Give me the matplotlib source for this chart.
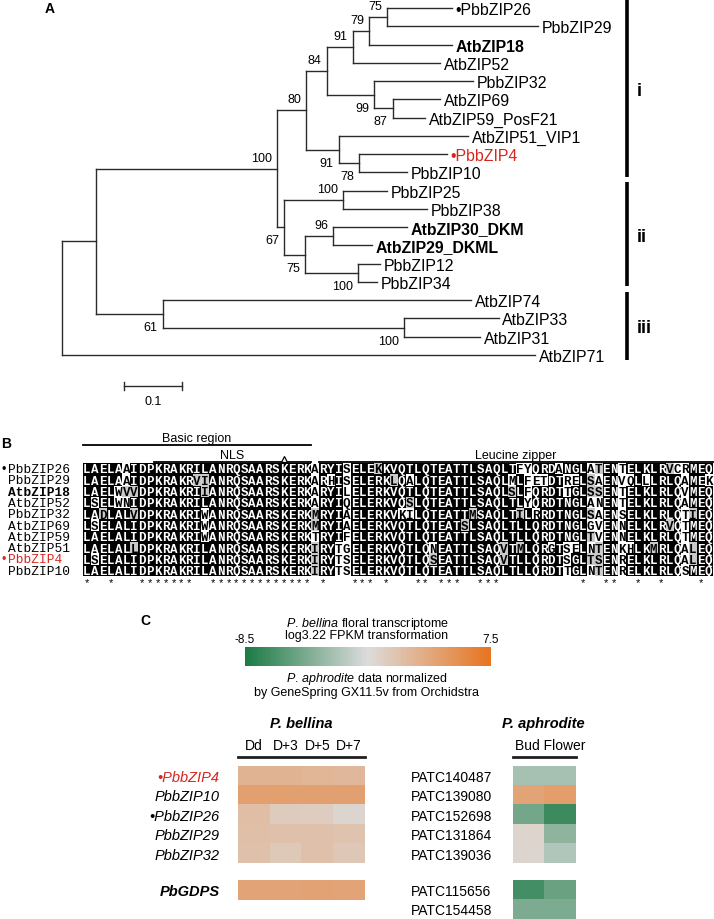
import numpy as np
import matplotlib
matplotlib.use('Agg')
import matplotlib.pyplot as plt
from collections import Counter
from matplotlib.colors import LinearSegmentedColormap, Normalize, to_rgb
from matplotlib.cm import ScalarMappable

plt.rcParams['font.family'] = ['Liberation Sans', 'DejaVu Sans']
plt.rcParams['mathtext.fontset'] = 'custom'
plt.rcParams['mathtext.rm'] = 'Liberation Sans'
plt.rcParams['mathtext.it'] = 'Liberation Sans:italic'
plt.rcParams['mathtext.bf'] = 'Liberation Sans:bold'

W, H = 714, 920

# === A: tree (branch lengths, bootstrap values as internal labels) ===
tree_newick = (
    "((((((((PbbZIP26:0.1124,PbbZIP29:0.2612)75:0.0305,AtbZIP18:0.1431)79:0.0284,"
    "AtbZIP52:0.1509)91:0.0445,(PbbZIP32:0.1712,(AtbZIP69:0.0822,AtbZIP59_PosF21:0.0564)87:0.0316)99:0.0816)84:0.0357,"
    "(AtbZIP51_VIP1:0.2233,(PbbZIP4:0.1507,PbbZIP10:0.0822)78:0.0359)91:0.056)80:0.0505,"
    "((PbbZIP25:0.0748,PbbZIP38:0.1438)100:0.1017,((AtbZIP30_DKM:0.1266,AtbZIP29_DKML:0.0664)96:0.0483,"
    "(PbbZIP12:0.0374,PbbZIP34:0.0327)100:0.0913)75:0.0362)67:0.0131)100:0.3116,"
    "(AtbZIP74:0.5317,(AtbZIP33:0.1631,AtbZIP31:0.131)100:0.4162)61:0.1148):0.058,AtbZIP71:0.8147);"
)
bold_leaves = ['AtbZIP18', 'AtbZIP30_DKM', 'AtbZIP29_DKML']
marked_genes = ['PbbZIP26', 'PbbZIP4']
red_genes = ['PbbZIP4']
clade_names = ['i', 'ii', 'iii']
clade_first = [0, 10, 16]
clade_last = [9, 15, 19]
scale_len = 0.1

# === B: alignment ===
seq_names = ['PbbZIP26', 'PbbZIP29', 'AtbZIP18', 'AtbZIP52', 'PbbZIP32',
             'AtbZIP69', 'AtbZIP59', 'AtbZIP51', 'PbbZIP4', 'PbbZIP10']
seqs = [
    'LAELAAIDPKRAKRILANRQSAARSKERKARYISELEKKVQTLQTEATTLSAQLTFYQRDANGLATENTELKLRVCRMEQ',
    'LAELAAIDPKRAKRVIANRQSAARSKERKARHISELERKLQALQTEATTLSAQLMLFETDTRELSAENVQLLLRLQAMEK',
    'LAELWVVDPKRAKRIIANRQSAARSKERKARYILELERKVQTLQTEATTLSAQLSLFQRDTTGLSSENTELKLRLQVMEQ',
    'LSELWNIDPKRAKRILANRQSAARSKERKARYIQELERKVQSLQTEATTLSAQLTLYQRDTNGLANENTELKLRLQAMEQ',
    'LADLALVDPKRAKRIWANRQSAARSKERKMRYIAELERKVKILQTEATTMSAQLTILRRDTNGLSAENSELKLRLQTIEQ',
    'LSELALIDPKRAKRIWANRQSAARSKERKMRYIAELERKVQTLQTEATSLSAQLTLLQRDTNGLGVENNELKLRVQTMEQ',
    'LAELALIDPKRAKRIWANRQSAARSKERKTRYIFELERKVQTLQTEATTLSAQLTLLQRDTNGLTVENNELKLRLQTMEQ',
    'LAELALLDPKRAKRILANRQSAARSKERKIRYTGELERKVQTLQNEATTLSAQVTMLQRGTSELNTENKHLKMRLQALEQ',
    'LSELALIDPKRAKRILANRQSAARSKERKIRYTSELERKVQTLQSEATTLSAQVTLLQRDTSGLTSENRELKLRLQALEQ',
    'LAELALIDPKRAKRILANRQSAARSKERKIRYTSELERKVQTLQTEATTLSAQLTLLQRDTTGLNTENRELKLRLQSMEQ',
]
region_names = ['Basic region', 'NLS', 'Leucine zipper']
region_start = [1, 10, 31]
region_end = [29, 29, 80]
region_level = [0, 1, 1]
nls_site = 26
sim_groups = ['ILVM', 'FYW', 'KRH', 'DE', 'NQ', 'ST', 'AG']

# === C: expression heatmaps ===
cbar_min, cbar_max = -8.5, 7.5
bel_stages = ['Dd', 'D+3', 'D+5', 'D+7']
bel_genes = ['PbbZIP4', 'PbbZIP10', 'PbbZIP26', 'PbbZIP29', 'PbbZIP32']
bel_vals = [[2.6, 2.6, 2.4, 2.3],
            [4.0, 4.1, 4.0, 4.0],
            [1.8, 0.8, 0.7, 0.0],
            [1.7, 1.5, 1.5, 1.4],
            [1.6, 1.0, 1.5, 1.1]]
bel_ref_gene = ['PbGDPS']
bel_ref_vals = [[3.7, 3.7, 3.9, 3.8]]
aph_stages = ['Bud', 'Flower']
aph_ids = ['PATC140487', 'PATC139080', 'PATC152698', 'PATC131864', 'PATC139036']
aph_vals = [[-2.7, -2.7],
            [3.8, 4.2],
            [-4.8, -7.1],
            [0.1, -3.7],
            [0.0, -2.3]]
aph_ref_ids = ['PATC115656', 'PATC154458']
aph_ref_vals = [[-6.8, -5.2],
                [-4.4, -4.5]]

RED = '#d8261f'
LINE = '#2b2b2b'

fig = plt.figure(figsize=(W / 100, H / 100), dpi=100)


def box(x0, y0, x1, y1):
    return [x0 / W, 1 - y1 / H, (x1 - x0) / W, (y1 - y0) / H]


def ftext(x, y, s, **kw):
    fig.text(x / W, 1 - y / H, s, **kw)


# ---------- Panel A ----------
def parse_newick(s):
    pos = 0

    def node():
        nonlocal pos
        kids = []
        if s[pos] == '(':
            pos += 1
            kids.append(node())
            while s[pos] == ',':
                pos += 1
                kids.append(node())
            pos += 1
        start = pos
        while s[pos] not in ',():;':
            pos += 1
        label = s[start:pos]
        length = 0.0
        if s[pos] == ':':
            pos += 1
            start = pos
            while s[pos] not in ',();':
                pos += 1
            length = float(s[start:pos])
        return {'label': label, 'len': length, 'kids': kids}
    return node()


tree = parse_newick(tree_newick)
leaf_order = []


def layout(n, x0):
    n['x'] = x0 + n['len']
    if n['kids']:
        for k in n['kids']:
            layout(k, n['x'])
        n['y'] = (n['kids'][0]['y'] + n['kids'][-1]['y']) / 2
    else:
        n['y'] = len(leaf_order)
        leaf_order.append(n['label'])


layout(tree, 0.0)

UNIT, ROW = 580.0, 18.26
axA = fig.add_axes(box(0, 0, W, 420))
axA.set_xlim(-62.5 / UNIT, (W - 62.5) / UNIT)
axA.set_ylim((420 - 9) / ROW, -9 / ROW)
axA.axis('off')


def draw(n):
    ys = [k['y'] for k in n['kids']]
    axA.plot([n['x'], n['x']], [min(ys), max(ys)], color=LINE, lw=1.0)
    for i, k in enumerate(n['kids']):
        axA.plot([n['x'], k['x']], [k['y'], k['y']], color=LINE, lw=1.0)
        if k['kids']:
            if k['label']:
                dy = 7.9 if i == 0 else -9.4
                axA.annotate(k['label'], (k['x'], k['y']), xytext=(-3.6, dy),
                             textcoords='offset points', ha='right', va='center', fontsize=9)
            draw(k)
        else:
            name = k['label']
            txt = ('\u2022' if name in marked_genes else '') + name
            axA.annotate(txt, (k['x'], k['y']), xytext=(2.5, 0), textcoords='offset points',
                         ha='left', va='center_baseline', fontsize=11.4,
                         fontweight='bold' if name in bold_leaves else 'normal',
                         color=RED if name in red_genes else 'black')


draw(tree)

bar_x = 0.973
for name, a, b in zip(clade_names, clade_first, clade_last):
    axA.plot([bar_x, bar_x], [a - 0.47, b + 0.25], color='black', lw=2.6, solid_capstyle='butt')
    axA.annotate(name, (bar_x, (a + b) / 2), xytext=(7, 0), textcoords='offset points',
                 ha='left', va='center', fontsize=13, fontweight='bold')

sb_x0, sb_y = 0.106, 20.7
axA.plot([sb_x0, sb_x0 + scale_len], [sb_y, sb_y], color=LINE, lw=1.0)
for xx in (sb_x0, sb_x0 + scale_len):
    axA.plot([xx, xx], [sb_y - 0.22, sb_y + 0.22], color=LINE, lw=1.0)
axA.annotate(f'{scale_len}', (sb_x0 + scale_len / 2, sb_y), xytext=(0, -11), textcoords='offset points',
             ha='center', va='center', fontsize=9)

ftext(50, 9, 'A', fontsize=10, fontweight='bold', ha='center', va='center')

# ---------- Panel B ----------
def grp(a):
    for g in sim_groups:
        if a in g:
            return g
    return a


nseq, ncol = len(seqs), len(seqs[0])
shade = np.ones((nseq, ncol, 3))
txt_white = np.zeros((nseq, ncol), dtype=bool)
stars = []
for c in range(ncol):
    col = [s[c] for s in seqs]
    cons, n = Counter(col).most_common(1)[0]
    if n == nseq:
        stars.append(c)
    if n / nseq >= 0.5:
        for r, a in enumerate(col):
            if a == cons:
                shade[r, c] = 0
                txt_white[r, c] = True
            elif grp(a) == grp(cons):
                shade[r, c] = to_rgb('#c9c9c9')
    else:
        g, gn = Counter(grp(a) for a in col).most_common(1)[0]
        if gn / nseq >= 0.5:
            for r, a in enumerate(col):
                if grp(a) == g:
                    shade[r, c] = to_rgb('#c9c9c9')

CW, RH = 7.87, 11.3
axB = fig.add_axes(box(83, 430, 83 + ncol * CW, 592))
axB.imshow(shade, extent=(0, ncol, nseq - 0.5, -0.5), aspect='auto', interpolation='nearest')
axB.set_xlim(0, ncol)
axB.set_ylim((592 - 470) / RH, (430 - 470) / RH)
axB.axis('off')
for r, s in enumerate(seqs):
    for c, a in enumerate(s):
        axB.text(c + 0.5, r + 0.04, a, ha='center', va='center', fontsize=9, fontweight='bold',
                 family='Liberation Mono', color='white' if txt_white[r, c] else 'black')
    name = seq_names[r]
    axB.text((8.3 - 83) / CW, r, name, ha='left', va='center', fontsize=9.3, family='Liberation Mono',
             fontweight='bold' if name in bold_leaves else 'normal',
             color=RED if name in red_genes else 'black', clip_on=False)
    if name in marked_genes:
        axB.text((4 - 83) / CW, r, '\u2022', ha='center', va='center', fontsize=9,
                 color=RED if name in red_genes else 'black', clip_on=False)
for c in stars:
    axB.text(c + 0.5, nseq + 0.05, '*', ha='center', va='center', fontsize=8)

line_y = [-2.12, -0.66]
for name, a, b, lev in zip(region_names, region_start, region_end, region_level):
    y = line_y[lev]
    axB.plot([a - 1, b], [y, y], color='black', lw=1.3, clip_on=False)
    axB.text((a - 1 + b) / 2, y - 0.62, name, ha='center', va='center', fontsize=9, clip_on=False)
axB.plot([nls_site - 0.5], [line_y[1] - 0.22], marker='^', ms=5, mfc='white', mec='black',
         mew=0.9, clip_on=False)

ftext(1, 444, 'B', fontsize=10, fontweight='bold', ha='left', va='center')

# ---------- Panel C ----------
cmap = LinearSegmentedColormap.from_list('gwo', ['#1b7a44', '#dcdcdc', '#e8741f'])
norm = Normalize(cbar_min, cbar_max)

ftext(145, 621, 'C', fontsize=10, fontweight='bold', ha='center', va='center')

cax = fig.add_axes(box(245, 648.3, 490.7, 667.3))
cb = fig.colorbar(ScalarMappable(norm=norm, cmap=cmap), cax=cax, orientation='horizontal')
cb.outline.set_visible(False)
cb.set_ticks([cbar_min, cbar_max])
cb.set_ticklabels([f'{cbar_min}', f'{cbar_max}'])
cax.xaxis.set_ticks_position('top')
cax.tick_params(length=0, pad=2, labelsize=8.5)

ftext(367, 623.5, r'$\mathit{P.\,bellina}$ floral transcriptome', fontsize=9, ha='center', va='center')
ftext(367, 636, 'log3.22 FPKM transformation', fontsize=9, ha='center', va='center')
ftext(367, 679.5, r'$\mathit{P.\,aphrodite}$ data normalized', fontsize=9, ha='center', va='center')
ftext(367, 693.5, 'by GeneSpring GX11.5v from Orchidstra', fontsize=9, ha='center', va='center')


def heat(rect, vals, header=None):
    ax = fig.add_axes(box(*rect))
    ax.imshow(np.array(vals), cmap=cmap, norm=norm, aspect='auto', interpolation='nearest')
    for sp in ax.spines.values():
        sp.set_visible(False)
    ax.set_xticks([])
    ax.set_yticks([])
    if header is not None:
        ax.spines['top'].set_visible(True)
        ax.spines['top'].set_position(('outward', 6))
        ax.spines['top'].set_linewidth(2)
        ax.spines['top'].set_color('#231f20')
        if header:
            ax.xaxis.tick_top()
            ax.set_xticks(range(len(header)))
            ax.set_xticklabels(header, fontsize=10)
            ax.tick_params(axis='x', length=0, pad=4)
    return ax


def left_labels(ax, labels, pad, ha, **kw):
    ax.set_yticks(range(len(labels)))
    ax.set_yticklabels(labels, **kw)
    ax.tick_params(axis='y', length=0, pad=pad)
    for t in ax.get_yticklabels():
        t.set_ha(ha)


axb = heat((238.3, 766.7, 365, 864), bel_vals, header=bel_stages)
left_labels(axb, [('\u2022' if g in marked_genes else '') + g for g in bel_genes], 13.5, 'right',
            fontsize=10.5, fontstyle='italic')
for t, g in zip(axb.get_yticklabels(), bel_genes):
    if g in red_genes:
        t.set_color(RED)
axb2 = heat((238.3, 880.7, 365, 900.7), bel_ref_vals)
left_labels(axb2, bel_ref_gene, 13.5, 'right', fontsize=10.5, fontstyle='italic', fontweight='bold')

axa = heat((513.3, 766.7, 576, 864), aph_vals, header=[])
left_labels(axa, aph_ids, 73.9, 'left', fontsize=10)
axa2 = heat((513.3, 880.7, 576, 919.7), aph_ref_vals)
left_labels(axa2, aph_ref_ids, 73.9, 'left', fontsize=10)
ftext(550.5, 746, ' '.join(aph_stages), fontsize=10, ha='center', va='center')

ftext(301.6, 724.5, 'P. bellina', fontsize=10.5, fontweight='bold', fontstyle='italic', ha='center', va='center')
ftext(543, 724.5, 'P. aphrodite', fontsize=10.5, fontweight='bold', fontstyle='italic', ha='center', va='center')

fig.savefig('out.png', dpi=100)
